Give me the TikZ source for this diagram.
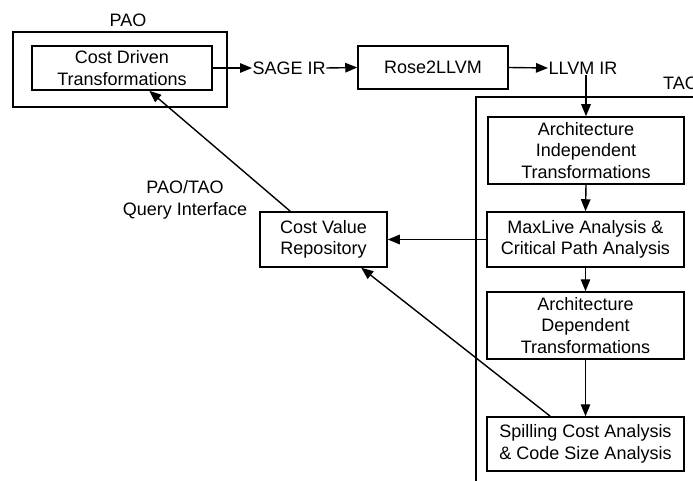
\documentclass[tikz,border=0pt]{standalone}
\usepackage{fontspec}
\setmainfont{Liberation Sans}
\usetikzlibrary{arrows.meta,calc}

\tikzset{
  box/.style={draw, line width=1.5pt, rectangle, align=center, inner sep=0pt},
  lbl/.style={inner sep=0.5pt, align=center},
  flow/.style={line width=1.4pt, -{Triangle[length=12pt,width=9.5pt]}},
}

\begin{document}
\begin{tikzpicture}[x=1pt, y=-1pt, font=\fontsize{18}{21.5}\selectfont]
  \useasboundingbox (0,0) rectangle (693,481);

  % PAO container and its transformation box
  \node[box, minimum width=214pt, minimum height=75pt] (pao) at (120,69.5) {};
  \node[anchor=base] (paolbl) at (128,27) {PAO};
  \node[box, minimum width=180pt, minimum height=44pt] (cdt) at (122,68) {Cost Driven\\Transformations};

  % IR chain
  \node[lbl, anchor=west] (sage) at (252,68) {SAGE IR};
  \node[box, minimum width=150pt, minimum height=43pt] (rose) at (433,67.5) {Rose2LLVM};
  \node[lbl, anchor=west] (llvm) at (548,68) {LLVM IR};

  % TAO container (open towards the right and the bottom)
  \draw[line width=1.5pt] (700,97) -- (476,97) -- (476,490);
  \node[anchor=base west, inner sep=0pt] (taolbl) at (663,90) {TAO};

  % TAO passes
  \node[box, minimum width=196pt, minimum height=67pt] (ait) at (586,150.5) {Architecture\\Independent\\Transformations};
  \node[box, minimum width=197pt, minimum height=55pt] (mla) at (585.5,239.5) {MaxLive Analysis \&\\Critical Path Analysis};
  \node[box, minimum width=197pt, minimum height=67pt] (adt) at (585.5,325.5) {Architecture\\Dependent\\Transformations};
  \node[box, minimum width=197pt, minimum height=54pt] (sca) at (585.5,444) {Spilling Cost Analysis\\\& Code Size Analysis};

  % Shared repository
  \node[box, minimum width=127pt, minimum height=55pt] (cvr) at (323.5,239.5) {Cost Value\\Repository};
  \node[lbl] (qi) at (185,200) {PAO/TAO\\Query Interface};

  % Connectors
  \draw[flow] (cdt.east) -- (sage.west);
  \draw[flow] (sage.east) -- (rose.west);
  \draw[flow] (rose.east) -- (llvm.west);
  \draw[flow] (llvm.south -| ait.north) -- (ait.north);
  \draw[flow] (ait.south) -- (mla.north);
  \draw[flow] (mla.south) -- (adt.north);
  \draw[flow] (adt.south) -- (sca.north);
  \draw[flow] (mla.west) -- (cvr.east);
  \draw[flow] ([xshift=64pt]sca.north west) -- ([xshift=102pt]cvr.south west);
  \draw[flow] ([xshift=31pt]cvr.north west) -- ([xshift=118pt]cdt.south west);
\end{tikzpicture}
\end{document}
